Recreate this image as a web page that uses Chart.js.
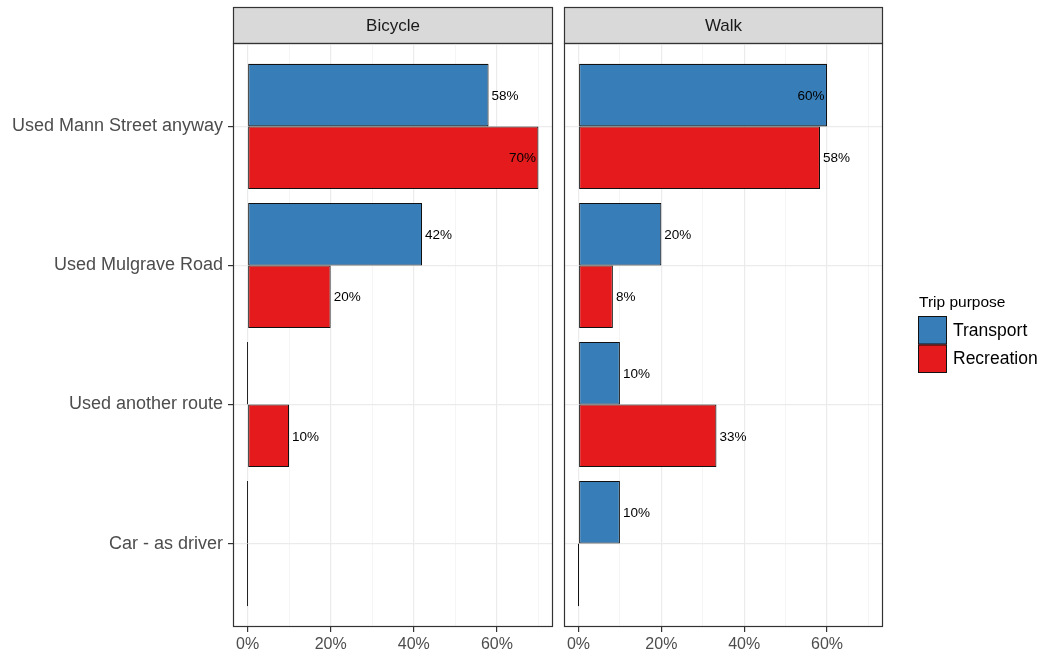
<!DOCTYPE html>
<html>
<head>
<meta charset="utf-8">
<script src="https://cdn.jsdelivr.net/npm/chart.js@4.4.1/dist/chart.umd.min.js"></script>
<style>
  html, body { margin: 0; padding: 0; background: #ffffff; }
  #wrap { position: relative; width: 1048px; height: 659px; overflow: hidden; }
  #c1 { position: absolute; left: 0; top: 0; }
  #c2 { position: absolute; left: 556px; top: 0; }
</style>
</head>
<body>
<div id="wrap">
  <canvas id="c1" width="556" height="659"></canvas>
  <canvas id="c2" width="492" height="659"></canvas>
</div>
<script>
// ---- data ----
const categories = ['Used Mann Street anyway', 'Used Mulgrave Road', 'Used another route', 'Car - as driver'];
const seriesNames = ['Transport', 'Recreation'];
const panels = ['Bicycle', 'Walk'];
const bicycleTransport = [58, 42, 0, 0];
const bicycleRecreation = [70, 20, 10, 0];
const walkTransport = [60, 20, 10, 10];
const walkRecreation = [58.3, 8.3, 33.3, 0];
const xTickValues = [0, 10, 20, 30, 40, 50, 60, 70];
const xMajorStep = 20;

// ---- styles ----
const FONT = "'Liberation Sans', Arial, sans-serif";
const colors = ['#377EB8', '#E41A1C'];
const outline = '#111111';
const frame = '#333333';
const axisText = '#4d4d4d';

const positions = categories.map((c, i) => i + 1);
const toPoints = arr => arr.map((v, i) => ({ x: v, y: positions[i] }));

const labelPlugin = {
  id: 'barLabels',
  afterDatasetsDraw(chart) {
    const ctx = chart.ctx;
    let maxV = -Infinity;
    chart.data.datasets.forEach(ds => ds.data.forEach(p => { if (p.x > maxV) maxV = p.x; }));
    ctx.save();
    ctx.font = '13.5px ' + FONT;
    ctx.fillStyle = '#000';
    ctx.textBaseline = 'middle';
    chart.data.datasets.forEach((ds, di) => {
      const meta = chart.getDatasetMeta(di);
      meta.data.forEach((el, j) => {
        const v = ds.data[j].x;
        if (!(v > 0)) return;
        const txt = Math.round(v) + '%';
        if (v === maxV) { ctx.textAlign = 'right'; ctx.fillText(txt, el.x - 2.5, el.y + 1); }
        else { ctx.textAlign = 'left'; ctx.fillText(txt, el.x + 3, el.y + 1); }
      });
    });
    ctx.restore();
  }
};

const framePlugin = {
  id: 'panelFrame',
  beforeDraw(chart, args, opts) {
    const a = chart.chartArea, ctx = chart.ctx;
    ctx.save();
    ctx.fillStyle = '#d9d9d9';
    ctx.fillRect(a.left, 7, a.right - a.left, a.top - 7);
    ctx.strokeStyle = frame;
    ctx.lineWidth = 1.2;
    ctx.strokeRect(a.left + 0.5, 7.5, a.right - a.left - 1, a.top - 7);
    ctx.fillStyle = '#1a1a1a';
    ctx.font = '17px ' + FONT;
    ctx.textAlign = 'center';
    ctx.textBaseline = 'middle';
    ctx.fillText(opts.title, (a.left + a.right) / 2, (7 + a.top) / 2 + 1);
    ctx.restore();
  },
  afterDraw(chart) {
    const a = chart.chartArea, ctx = chart.ctx;
    ctx.save();
    ctx.strokeStyle = frame;
    ctx.lineWidth = 1.2;
    ctx.strokeRect(a.left + 0.5, a.top + 0.5, a.right - a.left - 1, a.bottom - a.top - 1);
    ctx.restore();
  }
};

const legendPlugin = {
  id: 'sideLegend',
  afterDraw(chart, args, opts) {
    if (!opts.show) return;
    const ctx = chart.ctx;
    const x0 = 918 - 556;
    ctx.save();
    ctx.fillStyle = '#000';
    ctx.font = '15.5px ' + FONT;
    ctx.textAlign = 'left';
    ctx.textBaseline = 'middle';
    ctx.fillText('Trip purpose', x0 + 1, 303);
    chart.data.datasets.forEach((ds, i) => {
      const y = 316 + i * 28.5;
      ctx.fillStyle = ds.backgroundColor;
      ctx.fillRect(x0, y, 29, 28.5);
      ctx.strokeStyle = outline;
      ctx.lineWidth = 1;
      ctx.strokeRect(x0 + 0.5, y + 0.5, 28, 27.5);
      ctx.fillStyle = '#000';
      ctx.font = '17.5px ' + FONT;
      ctx.fillText(ds.label, x0 + 35, y + 15);
    });
    ctx.restore();
  }
};

function makeChart(canvasId, title, tVals, rVals, isLeft) {
  return new Chart(document.getElementById(canvasId), {
    type: 'bar',
    data: {
      datasets: [
        { label: seriesNames[0], data: toPoints(tVals), backgroundColor: colors[0] },
        { label: seriesNames[1], data: toPoints(rVals), backgroundColor: colors[1] }
      ]
    },
    options: {
      indexAxis: 'y',
      responsive: false,
      animation: false,
      events: [],
      layout: { padding: isLeft ? { top: 43, right: 3, left: 0, bottom: 0 } : { top: 43, right: 165, left: 8, bottom: 0 } },
      datasets: {
        bar: {
          categoryPercentage: 0.9,
          barPercentage: 1.0,
          borderColor: outline,
          borderWidth: 1.1,
          borderSkipped: false,
          minBarLength: 1
        }
      },
      scales: {
        x: {
          type: 'linear',
          min: -3.5,
          max: 73.5,
          offset: false,
          afterBuildTicks: s => { s.ticks = xTickValues.map(v => ({ value: v })); },
          afterFit: s => { s.height = 32; },
          border: { display: false },
          grid: {
            offset: false,
            color: c => (c.tick && c.tick.value % xMajorStep === 0) ? '#ebebeb' : '#f3f3f3',
            lineWidth: c => (c.tick && c.tick.value % xMajorStep === 0) ? 1.2 : 0.8,
            tickColor: c => (c.tick && c.tick.value % xMajorStep === 0) ? frame : 'rgba(0,0,0,0)',
            tickLength: 5,
            tickWidth: 1.2
          },
          ticks: {
            autoSkip: false,
            maxRotation: 0,
            padding: 3,
            color: axisText,
            font: { family: FONT, size: 16 },
            callback: v => (v % xMajorStep === 0 ? v + '%' : '')
          }
        },
        y: {
          type: 'linear',
          reverse: true,
          min: 0.4,
          max: 4.6,
          offset: false,
          afterBuildTicks: s => { s.ticks = positions.map(v => ({ value: v })); },
          afterFit: s => { s.width = isLeft ? 233 : 0; },
          border: { display: false },
          grid: {
            offset: false,
            color: '#ebebeb',
            lineWidth: 1.2,
            drawTicks: isLeft,
            tickColor: frame,
            tickLength: 5,
            tickWidth: 1.2
          },
          ticks: {
            display: isLeft,
            autoSkip: false,
            padding: 5,
            color: axisText,
            font: { family: FONT, size: 18 },
            callback: v => categories[v - 1]
          }
        }
      },
      plugins: {
        legend: { display: false },
        tooltip: { enabled: false },
        panelFrame: { title: title },
        sideLegend: { show: !isLeft }
      }
    },
    plugins: [framePlugin, labelPlugin, legendPlugin]
  });
}

makeChart('c1', panels[0], bicycleTransport, bicycleRecreation, true);
makeChart('c2', panels[1], walkTransport, walkRecreation, false);
</script>
</body>
</html>
